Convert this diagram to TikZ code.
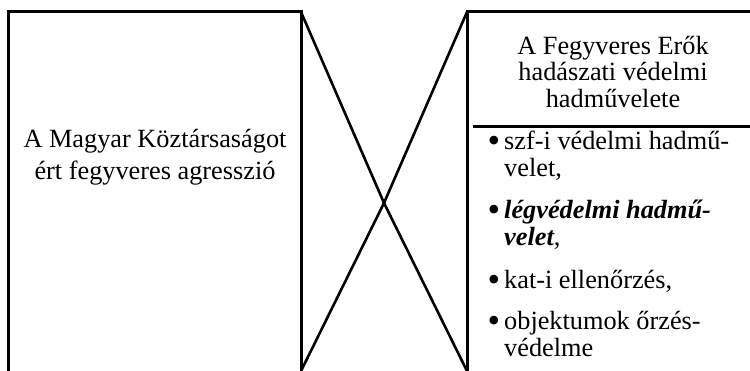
\documentclass[tikz,border=0pt]{standalone}
\usepackage{fontspec}
\setmainfont{Liberation Serif}
\begin{document}
\begin{tikzpicture}[x=1pt,y=-1pt]
\tikzset{
  frame/.style={line width=3pt, line join=miter},
  diag/.style={line width=2.6pt},
  txt/.style={inner sep=0pt, anchor=base, font=\fontsize{26.3}{26.3}\selectfont},
  item/.style={txt, anchor=base west},
  bul/.style={inner sep=0pt, anchor=base, font=\fontsize{36}{36}\selectfont}
}
\useasboundingbox (0,0) rectangle (750,371);
\clip (0,0) rectangle (750,371);
\fill[white] (0,0) rectangle (750,371);
% corner coordinates
\coordinate (LTL) at (8.5,12);
\coordinate (LTR) at (301,12);
\coordinate (LBL) at (8.5,380);
\coordinate (LBR) at (301,380);
\coordinate (LBRc) at (301,371);
\coordinate (RTL) at (467,12);
\coordinate (RBL) at (467,380);
\coordinate (RBLc) at (467,371);
\coordinate (RTR) at (770,12);
\coordinate (DL) at (473,126.5);
\coordinate (DR) at (770,126.5);
\coordinate (X) at (384,203);
% boxes
\draw[frame] (LBL) -- (LTL) -- (LTR) -- (LBR);
\draw[frame] (RBL) -- (RTL) -- (RTR);
\draw[frame] (DL) -- (DR);
% crossing lines
\draw[diag] (LTR) -- (X) -- (RBLc);
\draw[diag] (RTL) -- (X) -- (LBRc);
% left text
\node[txt] (l1) at (155,148) {A Magyar Köztársaságot};
\node[txt] (l2) at (155,180) {ért fegyveres agresszió};
% header
\node[txt] (h1) at (613,54.5) {A Fegyveres Erők};
\node[txt] (h2) at (613,81) {hadászati védelmi};
\node[txt] (h3) at (613,107.5) {hadművelete};
% bullet items
\node[bul] (b1) at (494,152.5) {•};
\node[item] (i1a) at (504,150) {szf-i védelmi hadmű-};
\node[item] (i1b) at (504,176.5) {velet,};
\node[bul] (b2) at (494,221.5) {•};
\node[item] (i2a) at (504,219) {\bfseries\itshape légvédelmi hadmű-};
\node[item] (i2b) at (504,245.5) {{\bfseries\itshape velet},};
\node[bul] (b3) at (494,291.5) {•};
\node[item] (i3a) at (504,289) {kat-i ellenőrzés,};
\node[bul] (b4) at (494,332.5) {•};
\node[item] (i4a) at (504,330) {objektumok őrzés-};
\node[item] (i4b) at (504,356) {védelme};
\end{tikzpicture}
\end{document}
